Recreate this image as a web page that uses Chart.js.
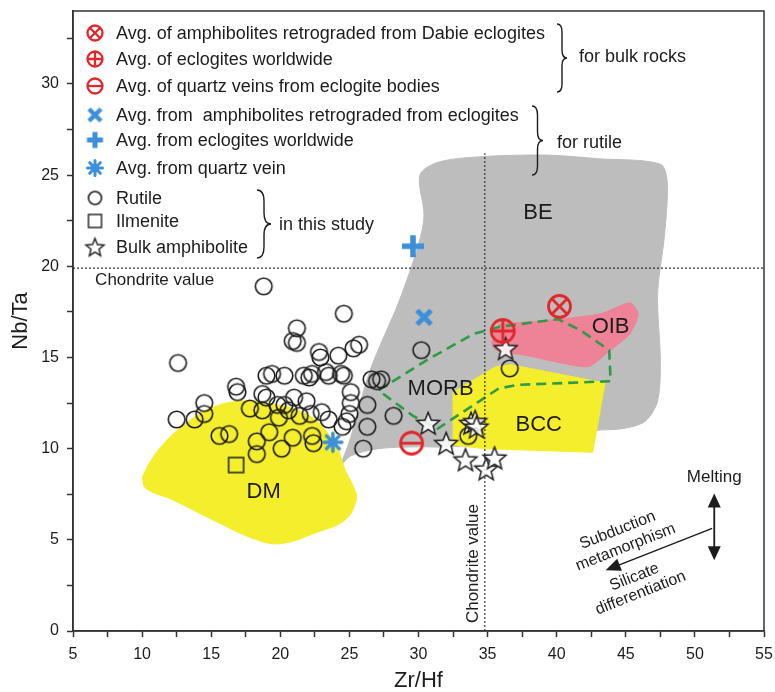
<!DOCTYPE html>
<html lang="en">
<head>
<meta charset="UTF-8">
<title>Nb/Ta vs Zr/Hf</title>
<script src="https://cdn.jsdelivr.net/npm/chart.js"></script>
<style>
  html, body { margin: 0; padding: 0; background: #fff; }
</style>
</head>
<body>
<canvas id="myChart" width="775" height="692"></canvas>
<script>
// rutile analyses (this study)
const rutileZrHf = [18.8,24.6,12.6,21.2,20.9,21.2,22.8,22.9,24.2,25.7,25.3,19.0,19.4,20.3,21.7,22.1,22.3,23.3,23.5,24.4,24.6,26.6,27.0,27.3,16.8,16.9,18.7,19.0,21.0,21.9,25.1,25.1,26.3,28.2,14.5,14.5,12.5,13.8,17.8,18.7,19.8,19.9,20.3,20.6,21.4,22.2,23.0,23.5,24.8,26.3,15.6,16.3,19.2,18.3,18.3,20.9,22.3,22.4,20.1,26.0,30.2,33.6,36.6,24.5,25.0];
const rutileNbTa = [18.9,17.4,14.7,16.6,15.9,15.8,15.3,15.0,15.1,15.7,15.5,14.0,14.1,14.0,14.0,13.9,14.1,14.2,14.0,14.1,14.0,13.8,13.7,13.8,13.4,13.1,13.0,12.8,12.8,12.6,13.1,12.5,12.4,11.8,12.5,11.9,11.6,11.6,12.2,12.1,12.4,11.7,12.4,12.1,11.8,11.9,12.0,11.6,11.5,11.2,10.7,10.8,10.9,10.4,9.7,10.6,10.7,10.3,10.0,10.0,15.4,10.7,14.4,11.2,11.9];
const ilmeniteZrHf = [16.8];
const ilmeniteNbTa = [9.1];
const bulkZrHf = [30.7,32.0,33.4,33.8,34.1,34.2,34.9,35.5,36.3];
const bulkNbTa = [11.4,10.3,9.4,11.4,11.5,11.2,8.9,9.5,15.5];

// averages: bulk rocks (red) and rutile (blue)
const dabieBulk = [40.2, 17.8];
const eclogiteBulk = [36.1, 16.45];
const quartzBulk = [29.5, 10.3];
const amphRutile = [30.4, 17.2];
const eclogiteRutile = [29.6, 21.1];
const quartzRutile = [23.8, 10.35];

const chondriteZrHf = 34.8;
const chondriteNbTa = 19.9;

// reservoir fields
const beZrHf = [24.3,25.1,27.1,30.0,32.5,42.8,44.8,46.4,47.3,47.5,47.3,47.8,48.0,47.5,43.0,39.2,34.3,31.4,30.1,30.4,30.0,28.6,26.5,25.0];
const beNbTa = [9.0,9.6,10.0,10.1,10.1,11.0,11.1,11.5,12.6,14.8,18.5,21.7,24.6,25.6,25.9,26.1,26.0,25.7,25.0,22.8,21.2,18.1,14.3,10.4];
const dmZrHf = [10.0,10.6,11.6,13.2,14.9,17.0,19.0,20.9,22.3,23.5,24.2,24.7,25.3,25.5,24.7,22.6,20.1,18.3,15.1,12.2,10.3];
const dmNbTa = [8.4,9.3,10.3,11.4,12.2,12.6,12.5,12.2,11.7,10.8,9.9,8.8,7.9,7.2,6.1,5.4,4.8,5.0,6.1,7.2,7.8];
const bccZrHf = [32.5,33.6,35.6,36.7,43.5,42.6,34.8,32.5];
const bccNbTa = [13.1,13.6,14.5,14.6,13.6,9.8,10.0,10.2];
const oibZrHf = [35.3,35.8,37.0,40.3,43.2,45.3,45.9,45.3,43.9,42.3,40.3,37.9,35.6];
const oibNbTa = [15.8,16.8,16.9,17.1,17.4,18.0,17.4,16.3,15.4,14.5,14.7,15.1,15.4];
const morbZrHf = [27.1,30.7,34.0,36.0,40.1,41.7,43.8,43.9,37.2,35.8,31.4,29.6];
const morbNbTa = [13.2,14.9,16.3,16.7,17.1,16.5,15.4,13.7,13.5,13.3,11.1,11.8];

const fieldNames = ['BE', 'MORB', 'OIB', 'BCC', 'DM'];
const fieldZrHf = [38.65, 31.6, 43.9, 38.7, 18.8];
const fieldNbTa = [22.9, 13.3, 16.7, 11.3, 7.65];

const legendLabels = [
    'Avg. of amphibolites retrograded from Dabie eclogites',
    'Avg. of eclogites worldwide',
    'Avg. of quartz veins from eclogite bodies',
    'Avg. from  amphibolites retrograded from eclogites',
    'Avg. from eclogites worldwide',
    'Avg. from quartz vein',
    'Rutile',
    'Ilmenite',
    'Bulk amphibolite'
];
const braceLabels = ['for bulk rocks', 'for rutile', 'in this study'];

const FONT = '"Liberation Sans", Arial, sans-serif';
const RED = '#e2262b';
const BLUE = '#3d8fd9';
const INK = '#1c1c1c';

Chart.defaults.font.family = FONT;
Chart.defaults.color = INK;

// ---- marker images -------------------------------------------------------
function makeMarker(size, draw) {
    const c = document.createElement('canvas');
    c.width = size;
    c.height = size;
    draw(c.getContext('2d'), size / 2);
    return c;
}

function redMarker(kind, r, lw) {
    return makeMarker(Math.ceil(2 * r + lw + 2), (g, m) => {
        g.strokeStyle = RED;
        g.lineWidth = lw;
        g.beginPath();
        g.arc(m, m, r, 0, 2 * Math.PI);
        g.stroke();
        g.beginPath();
        if (kind === 'x') {
            const d = r * 0.66;
            g.moveTo(m - d, m - d); g.lineTo(m + d, m + d);
            g.moveTo(m + d, m - d); g.lineTo(m - d, m + d);
        } else {
            g.moveTo(m - r, m); g.lineTo(m + r, m);
            if (kind === 'plus') { g.moveTo(m, m - r); g.lineTo(m, m + r); }
        }
        g.stroke();
    });
}

function blueMarker(kind, h, lw) {
    return makeMarker(Math.ceil(2 * h + lw + 2), (g, m) => {
        g.strokeStyle = BLUE;
        g.lineWidth = lw;
        g.beginPath();
        if (kind === 'x') {
            g.moveTo(m - h, m - h); g.lineTo(m + h, m + h);
            g.moveTo(m + h, m - h); g.lineTo(m - h, m + h);
        } else if (kind === 'plus') {
            g.moveTo(m - h, m); g.lineTo(m + h, m);
            g.moveTo(m, m - h); g.lineTo(m, m + h);
        } else {
            g.lineCap = 'round';
            for (let i = 0; i < 4; i++) {
                const a = i * Math.PI / 4;
                g.moveTo(m - h * Math.cos(a), m - h * Math.sin(a));
                g.lineTo(m + h * Math.cos(a), m + h * Math.sin(a));
            }
        }
        g.stroke();
    });
}

function starMarker(r, lw) {
    return makeMarker(Math.ceil(2 * r + lw + 4), (g, m) => {
        g.beginPath();
        for (let i = 0; i < 10; i++) {
            const a = -Math.PI / 2 + i * Math.PI / 5;
            const rr = i % 2 === 0 ? r : r * 0.44;
            g.lineTo(m + rr * Math.cos(a), m + r * 0.1 + rr * Math.sin(a));
        }
        g.closePath();
        g.fillStyle = 'rgba(255,255,255,0.85)';
        g.fill();
        g.strokeStyle = INK;
        g.lineWidth = lw;
        g.stroke();
    });
}

function ringMarker(r, lw) {
    return makeMarker(Math.ceil(2 * r + lw + 2), (g, m) => {
        g.strokeStyle = INK;
        g.lineWidth = lw;
        g.beginPath();
        g.arc(m, m, r, 0, 2 * Math.PI);
        g.stroke();
    });
}

function squareMarker(s, lw) {
    return makeMarker(Math.ceil(s + lw + 2), (g, m) => {
        g.strokeStyle = INK;
        g.lineWidth = lw;
        g.strokeRect(m - s / 2, m - s / 2, s, s);
    });
}

const plotMarks = {
    dabie: redMarker('x', 11, 2.8),
    eclog: redMarker('plus', 11.5, 2.8),
    quartz: redMarker('minus', 11, 2.8),
    amph: blueMarker('x', 7, 5),
    eclogR: blueMarker('plus', 11, 5.5),
    quartzR: blueMarker('star', 9, 3.5),
    rutile: ringMarker(8.3, 1.6),
    ilm: squareMarker(15, 1.5),
    bulk: starMarker(12, 1.5)
};
const legendMarks = [
    redMarker('x', 7.5, 2.3),
    redMarker('plus', 7.5, 2.3),
    redMarker('minus', 7.5, 2.3),
    blueMarker('x', 6, 4.5),
    blueMarker('plus', 8, 5),
    blueMarker('star', 7.5, 3),
    ringMarker(6.5, 1.6),
    squareMarker(13, 1.4),
    starMarker(9.5, 1.4)
];

// ---- datasets -------------------------------------------------------------
function pts(xs, ys) {
    return xs.map((x, i) => ({x: x, y: ys[i]}));
}

function marks(data, style, order) {
    return {type: 'scatter', data: data, pointStyle: style, pointRadius: 10, order: order};
}

function field(xs, ys, color, tension, order) {
    const data = pts(xs, ys);
    data.push(data[0]);
    return {
        type: 'line', data: data, fill: 'shape', backgroundColor: color,
        borderColor: color, borderWidth: 1, pointRadius: 0, tension: tension, order: order
    };
}

function guide(data, order) {
    return {
        type: 'line', data: data, fill: false, borderColor: '#333', borderWidth: 1.2,
        borderDash: [2, 2], pointRadius: 0, order: order
    };
}

const datasets = [
    marks([{x: dabieBulk[0], y: dabieBulk[1]}], plotMarks.dabie, 1),
    marks([{x: eclogiteBulk[0], y: eclogiteBulk[1]}], plotMarks.eclog, 1),
    marks([{x: quartzBulk[0], y: quartzBulk[1]}], plotMarks.quartz, 1),
    marks([{x: amphRutile[0], y: amphRutile[1]}], plotMarks.amph, 2),
    marks([{x: eclogiteRutile[0], y: eclogiteRutile[1]}], plotMarks.eclogR, 2),
    marks([{x: quartzRutile[0], y: quartzRutile[1]}], plotMarks.quartzR, 2),
    marks(pts(bulkZrHf, bulkNbTa), plotMarks.bulk, 4),
    marks(pts(rutileZrHf, rutileNbTa), plotMarks.rutile, 3),
    marks(pts(ilmeniteZrHf, ilmeniteNbTa), plotMarks.ilm, 5),
    guide([{x: 5, y: chondriteNbTa}, {x: 55, y: chondriteNbTa}], 6),
    guide([{x: chondriteZrHf, y: 0}, {x: chondriteZrHf, y: 26.2}], 6),
    {
        type: 'line', data: (() => { const d = pts(morbZrHf, morbNbTa); d.push(d[0]); return d; })(),
        fill: false, borderColor: '#2f9a48', borderWidth: 2.6, borderDash: [10, 6],
        pointRadius: 0, order: 7
    },
    field(oibZrHf, oibNbTa, '#ee8397', 0.2, 8),
    field(bccZrHf, bccNbTa, '#f4ee2c', 0, 9),
    field(dmZrHf, dmNbTa, '#f4ee2c', 0.4, 10),
    field(beZrHf, beNbTa, '#bdbdbd', 0.3, 11)
];

// ---- drawing helpers ------------------------------------------------------
function arrowHead(ctx, tx, ty, ang, len, half) {
    const bx = tx - len * Math.cos(ang), by = ty - len * Math.sin(ang);
    ctx.beginPath();
    ctx.moveTo(tx, ty);
    ctx.lineTo(bx + half * Math.sin(ang), by - half * Math.cos(ang));
    ctx.lineTo(bx - half * Math.sin(ang), by + half * Math.cos(ang));
    ctx.closePath();
    ctx.fill();
}

function brace(ctx, x, y0, y1, w) {
    const ym = (y0 + y1) / 2, q = w / 2;
    ctx.beginPath();
    ctx.moveTo(x, y0);
    ctx.quadraticCurveTo(x + q, y0, x + q, y0 + q * 1.6);
    ctx.lineTo(x + q, ym - q * 1.6);
    ctx.quadraticCurveTo(x + q, ym, x + w, ym);
    ctx.quadraticCurveTo(x + q, ym, x + q, ym + q * 1.6);
    ctx.lineTo(x + q, y1 - q * 1.6);
    ctx.quadraticCurveTo(x + q, y1, x, y1);
    ctx.stroke();
}

function rotText(ctx, text, px, py, ang) {
    ctx.save();
    ctx.translate(px, py);
    ctx.rotate(ang);
    ctx.fillText(text, 0, 0);
    ctx.restore();
}

const notes = {
    id: 'notes',
    afterDatasetsDraw(chart) {
        const {ctx, chartArea: a, scales: {x, y}} = chart;
        ctx.save();
        ctx.fillStyle = INK;
        ctx.strokeStyle = INK;
        ctx.textBaseline = 'middle';

        // field names
        ctx.textAlign = 'center';
        ctx.font = '22px ' + FONT;
        fieldNames.forEach((n, i) => {
            ctx.fillText(n, x.getPixelForValue(fieldZrHf[i]), y.getPixelForValue(fieldNbTa[i]));
        });

        // chondrite labels
        ctx.font = '17px ' + FONT;
        ctx.textAlign = 'left';
        ctx.fillText('Chondrite value', x.getPixelForValue(6.6), y.getPixelForValue(19.23));
        ctx.textAlign = 'center';
        rotText(ctx, 'Chondrite value', x.getPixelForValue(33.95), y.getPixelForValue(3.7), -Math.PI / 2);

        // process arrows
        const vx = x.getPixelForValue(51.4);
        const vTop = y.getPixelForValue(7.54), vBot = y.getPixelForValue(3.88);
        ctx.lineWidth = 1.8;
        ctx.beginPath();
        ctx.moveTo(vx, vTop + 8); ctx.lineTo(vx, vBot - 8);
        ctx.stroke();
        arrowHead(ctx, vx, vTop, -Math.PI / 2, 14, 6.5);
        arrowHead(ctx, vx, vBot, Math.PI / 2, 14, 6.5);
        const sx = x.getPixelForValue(51.25), sy = y.getPixelForValue(5.63);
        const ex = x.getPixelForValue(43.54), ey = y.getPixelForValue(3.33);
        const dAng = Math.atan2(ey - sy, ex - sx);
        ctx.lineWidth = 1.5;
        ctx.beginPath();
        ctx.moveTo(sx, sy);
        ctx.lineTo(ex - 10 * Math.cos(dAng), ey - 10 * Math.sin(dAng));
        ctx.stroke();
        arrowHead(ctx, ex, ey, dAng, 15, 6.5);

        const tAng = Math.atan2(sy - ey, sx - ex);
        ctx.font = '17px ' + FONT;
        ctx.fillText('Melting', vx, y.getPixelForValue(8.42));
        ctx.font = '16px ' + FONT;
        rotText(ctx, 'Subduction', x.getPixelForValue(44.41), y.getPixelForValue(5.52), tAng);
        rotText(ctx, 'metamorphism', x.getPixelForValue(44.99), y.getPixelForValue(4.59), tAng);
        rotText(ctx, 'Silicate', x.getPixelForValue(45.63), y.getPixelForValue(2.95), tAng);
        rotText(ctx, 'differentiation', x.getPixelForValue(46.07), y.getPixelForValue(2.08), tAng);

        // plot frame
        ctx.lineWidth = 1.5;
        ctx.strokeStyle = '#333';
        ctx.strokeRect(a.left, a.top, a.right - a.left, a.bottom - a.top);

        // legend
        const rowY = [22, 48, 75, 104, 129, 157, 187, 210, 236];
        ctx.textAlign = 'left';
        ctx.font = '18px ' + FONT;
        ctx.fillStyle = INK;
        legendLabels.forEach((t, i) => {
            const m = legendMarks[i];
            const cy = a.top + rowY[i];
            ctx.drawImage(m, a.left + 22 - m.width / 2, cy - m.height / 2);
            ctx.fillText(t, a.left + 43, cy + 1);
        });
        ctx.strokeStyle = INK;
        ctx.lineWidth = 1.4;
        brace(ctx, a.left + 484, a.top + 13, a.top + 81, 10);
        brace(ctx, a.left + 459, a.top + 95, a.top + 164, 11);
        brace(ctx, a.left + 184, a.top + 179, a.top + 247, 14);
        ctx.fillText(braceLabels[0], a.left + 506, a.top + 46);
        ctx.fillText(braceLabels[1], a.left + 484, a.top + 132);
        ctx.fillText(braceLabels[2], a.left + 206, a.top + 214);
        ctx.restore();
    }
};

function keepStep(scale) {
    scale.ticks = scale.ticks.filter(t => Math.abs(t.value / 2.5 - Math.round(t.value / 2.5)) < 1e-6);
}
function every5(v) {
    return Math.abs(v % 5) < 1e-6 ? String(v) : '';
}

const chart = new Chart(document.getElementById('myChart'), {
    type: 'scatter',
    data: {datasets: datasets},
    options: {
        responsive: false,
        animation: false,
        layout: {padding: {top: 8, right: 5, left: 0, bottom: 0}},
        plugins: {legend: {display: false}, tooltip: {enabled: false}},
        scales: {
            x: {
                type: 'linear', min: 5, max: 55,
                afterBuildTicks: keepStep,
                afterFit: s => { s.height = 61; s.paddingLeft = 0; s.paddingRight = 0; },
                ticks: {stepSize: 2.5, callback: every5, autoSkip: false, maxRotation: 0,
                        font: {size: 16}, color: INK, padding: 8},
                grid: {drawOnChartArea: false, drawTicks: true, tickLength: 6, tickWidth: 1.5, tickColor: '#333'},
                border: {display: true, color: '#333', width: 1.5},
                title: {display: true, text: 'Zr/Hf', font: {size: 22, lineHeight: 1}, color: INK,
                        padding: {top: 0, bottom: 0}}
            },
            y: {
                type: 'linear', min: 0, max: 34,
                afterBuildTicks: keepStep,
                afterFit: s => { s.width = 73; s.paddingTop = 0; s.paddingBottom = 0; },
                ticks: {stepSize: 2.5, callback: every5, autoSkip: false,
                        font: {size: 16}, color: INK, padding: 8},
                grid: {drawOnChartArea: false, drawTicks: true, tickLength: 6, tickWidth: 1.5, tickColor: '#333'},
                border: {display: true, color: '#333', width: 1.5},
                title: {display: true, text: 'Nb/Ta', font: {size: 22, lineHeight: 1}, color: INK,
                        padding: {top: 10, bottom: 0}}
            }
        }
    },
    plugins: [notes]
});
</script>
</body>
</html>
